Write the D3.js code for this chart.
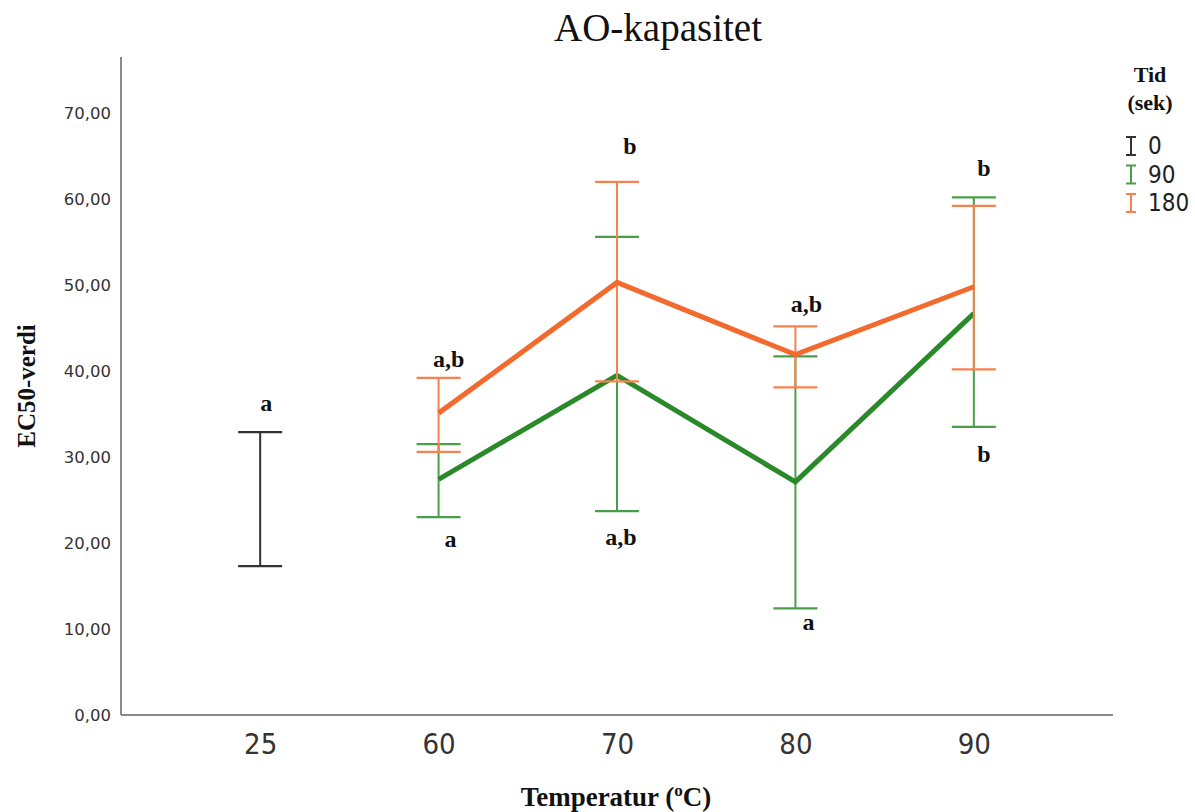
<!DOCTYPE html>
<html><head><meta charset="utf-8">
<script src="https://cdn.jsdelivr.net/npm/d3@7"></script>
<style>body{margin:0;background:#fff}</style>
</head><body>
<svg id="c" width="1195" height="812"></svg>
<script>
const categories = ["25","60","70","80","90"];
const yTicks = [0,10,20,30,40,50,60,70];
const seriesNames = ["0","90","180"];
const seriesColors = ["#222222","#2a8a2a","#f26a2e"];
const barColors = ["#333333","#4a9e4a","#f8824f"];
// means, lower and upper error bounds (null = not measured)
const mean0 = [25.1, null, null, null, null];
const low0  = [17.3, null, null, null, null];
const high0 = [32.9, null, null, null, null];
const mean90 = [null, 27.4, 39.5, 27.1, 46.7];
const low90  = [null, 23.0, 23.7, 12.4, 33.5];
const high90 = [null, 31.5, 55.6, 41.7, 60.2];
const mean180 = [null, 35.1, 50.3, 41.9, 49.8];
const low180  = [null, 30.6, 38.8, 38.1, 40.2];
const high180 = [null, 39.2, 62.0, 45.2, 59.2];
// significance letters: [category, text]
const letters = [
  ["25","a"],["60","a,b"],["60","a"],["70","b"],["70","a,b"],
  ["80","a,b"],["80","a"],["90","b"],["90","b"]
];
const letterVals = [35.3, 40.5, 19.5, 65.2, 19.8, 46.9, 9.9, 62.7, 29.4];
const letterDx = [6, 10, 12, 13, 4, 11, 13, 10, 10];

const svg = d3.select("#c");
const L = 121, R = 1113, T = 57, B = 715;
const x = d3.scalePoint().domain(categories).range([L, R]).padding(0.78);
const y = d3.scaleLinear().domain([0, (B - T) / 8.6]).range([B, T]);

// axes
svg.append("line").attr("x1",L).attr("x2",L).attr("y1",T).attr("y2",B).attr("stroke","#8a8a8a").attr("stroke-width",2);
svg.append("line").attr("x1",L).attr("x2",R).attr("y1",B).attr("y2",B).attr("stroke","#8a8a8a").attr("stroke-width",2);
const yAxis = svg.append("g").attr("transform",`translate(${L},0)`)
  .call(d3.axisLeft(y).tickValues(yTicks).tickSize(0).tickPadding(10).tickFormat(d => d3.format(".2f")(d).replace(".",",")));
yAxis.select(".domain").remove();
yAxis.selectAll("text").attr("font-family","Verdana, 'DejaVu Sans', sans-serif").attr("font-size",16.5).attr("fill","#333");
const xAxis = svg.append("g").attr("transform",`translate(0,${B})`)
  .call(d3.axisBottom(x).tickSize(0).tickPadding(18));
xAxis.select(".domain").remove();
xAxis.selectAll("text").attr("font-family","'Liberation Sans Narrow','DejaVu Sans Condensed', sans-serif").attr("font-size",29).attr("fill","#333");

// error bars and lines
const series = [
  {mean: mean0, low: low0, high: high0},
  {mean: mean90, low: low90, high: high90},
  {mean: mean180, low: low180, high: high180}
];
const cap = 22;
series.forEach((s, i) => {
  const pts = categories.map((c, k) => ({c, m: s.mean[k], lo: s.low[k], hi: s.high[k]})).filter(d => d.m !== null);
  const g = svg.append("g");
  pts.forEach(d => {
    const cx = x(d.c);
    g.append("line").attr("x1",cx).attr("x2",cx).attr("y1",y(d.lo)).attr("y2",y(d.hi)).attr("stroke",barColors[i]).attr("stroke-width",2);
    [d.lo, d.hi].forEach(v => g.append("line").attr("x1",cx-cap).attr("x2",cx+cap).attr("y1",y(v)).attr("y2",y(v)).attr("stroke",barColors[i]).attr("stroke-width",2.2));
  });
  if (pts.length > 1) {
    svg.append("path").datum(pts).attr("fill","none").attr("stroke",seriesColors[i]).attr("stroke-width",5)
      .attr("stroke-linejoin","miter")
      .attr("d", d3.line().x(d => x(d.c)).y(d => y(d.m)));
  }
});

// letters
letters.forEach((l, k) => {
  svg.append("text").attr("x", x(l[0]) + letterDx[k]).attr("y", y(letterVals[k]))
    .attr("text-anchor","middle").attr("font-family","'Liberation Serif','Times New Roman',serif")
    .attr("font-weight","bold").attr("font-size",24).attr("fill","#111").text(l[1]);
});

// title
svg.append("text").attr("x",658).attr("y",41).attr("text-anchor","middle")
  .attr("font-family","'Liberation Serif','Times New Roman',serif").attr("font-size",39).attr("fill","#111").text("AO-kapasitet");

// axis titles
svg.append("text").attr("transform",`translate(35,${(T+B)/2}) rotate(-90)`).attr("text-anchor","middle")
  .attr("font-family","'Liberation Serif','Times New Roman',serif").attr("font-weight","bold").attr("font-size",25).attr("fill","#111").text("EC50-verdi");
const xt = svg.append("text").attr("x",616).attr("y",806).attr("text-anchor","middle")
  .attr("font-family","'Liberation Serif','Times New Roman',serif").attr("font-weight","bold").attr("font-size",27).attr("fill","#111");
xt.append("tspan").text("Temperatur (");
xt.append("tspan").attr("font-size",17).attr("dy",-10).text("o");
xt.append("tspan").attr("dy",10).text("C)");

// legend
const lg = svg.append("g");
lg.append("text").attr("x",1150).attr("y",82).attr("text-anchor","middle").attr("font-family","'Liberation Serif',serif").attr("font-weight","bold").attr("font-size",22).attr("fill","#111").text("Tid");
lg.append("text").attr("x",1150).attr("y",110).attr("text-anchor","middle").attr("font-family","'Liberation Serif',serif").attr("font-weight","bold").attr("font-size",22).attr("fill","#111").text("(sek)");
const legY = d3.scalePoint().domain(seriesNames).range([146, 203]);
seriesNames.forEach((n, i) => {
  const cy = legY(n);
  const gx = 1131;
  lg.append("line").attr("x1",gx).attr("x2",gx).attr("y1",cy-9).attr("y2",cy+9).attr("stroke",barColors[i]).attr("stroke-width",2);
  lg.append("line").attr("x1",gx-5).attr("x2",gx+5).attr("y1",cy-9).attr("y2",cy-9).attr("stroke",barColors[i]).attr("stroke-width",2);
  lg.append("line").attr("x1",gx-5).attr("x2",gx+5).attr("y1",cy+9).attr("y2",cy+9).attr("stroke",barColors[i]).attr("stroke-width",2);
  lg.append("text").attr("x",1148).attr("y",cy+8).attr("font-family","'Liberation Sans Narrow','DejaVu Sans Condensed',sans-serif").attr("font-size",24).attr("fill","#222").text(n);
});
</script>
</body></html>
